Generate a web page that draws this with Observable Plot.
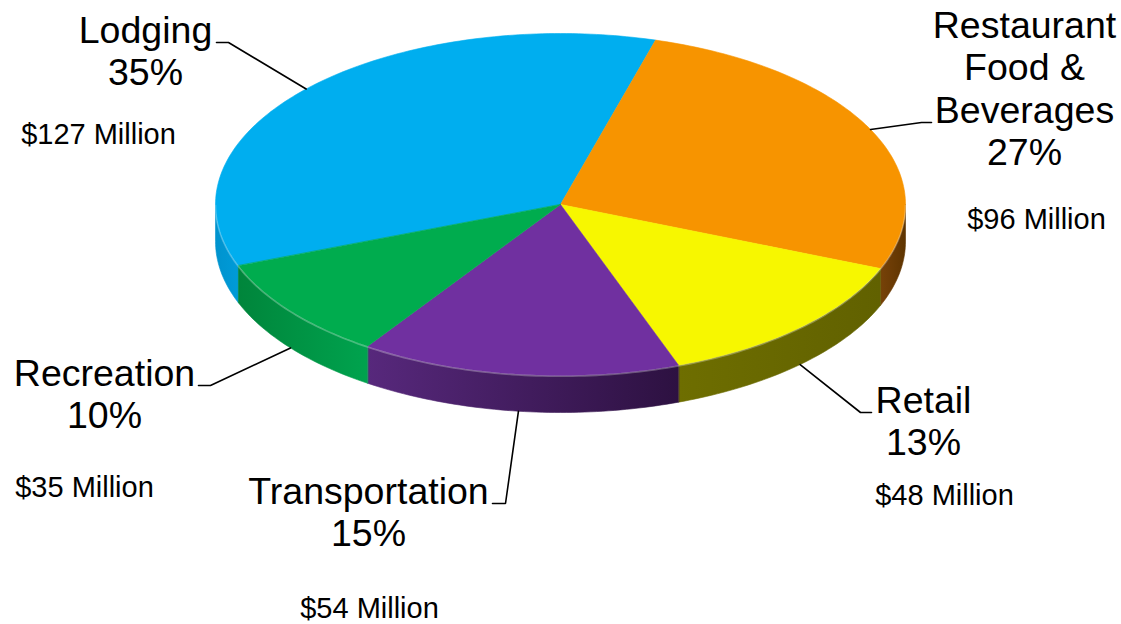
<!DOCTYPE html>
<html>
<head>
<meta charset="utf-8">
<script src="https://cdn.jsdelivr.net/npm/d3@7"></script>
<script src="https://cdn.jsdelivr.net/npm/@observablehq/plot@0.6"></script>
<style>
  html, body { margin: 0; padding: 0; background: #fff; }
  #chart svg { display: block; }
</style>
</head>
<body>
<div id="chart"></div>
<script>
// ---------------- DATA ----------------
const categories = ["Lodging", "Restaurant Food & Beverages", "Retail", "Transportation", "Recreation"];
const labelLines = [["Lodging"], ["Restaurant", "Food &", "Beverages"], ["Retail"], ["Transportation"], ["Recreation"]];
const millions = [127, 96, 48, 54, 35];

// ---------------- STYLE ----------------
const topColors = ["#00AEEF", "#F79400", "#F7F700", "#7030A0", "#00AC4E"];
const sideColors = [
  ["#0093CE", "#009BD8"],
  ["#774209", "#5E3400"],
  ["#6E6E00", "#616100"],
  ["#57287C", "#2D1141"],
  ["#00853B", "#00A34E"]
];

// ---------------- LAYOUT ----------------
const W = 1121, H = 624;
const pie = {cx: 560, cy: 204, rx: 345, ry: 171, depth: 37, start: -111};
const bigFont = 37.5, smallFont = 29, lineStep = 42.5;
// per slice: label centre x, first baseline y, money centre x / baseline y, leader end and elbow
const labelLayout = [
  {x: 145,  y: 42,  mx: 98,   my: 143, end: [216, 42],  elbow: [228, 42]},
  {x: 1024, y: 37,  mx: 1036, my: 228, end: [931, 122], elbow: [921, 122]},
  {x: 923,  y: 412, mx: 944,  my: 504, end: [871, 412], elbow: [860, 412]},
  {x: 368,  y: 503, mx: 369,  my: 617, end: [492, 503], elbow: [505, 503]},
  {x: 104,  y: 385, mx: 84,   my: 496, end: [198, 385], elbow: [210, 385]}
];

// ---------------- GEOMETRY (from values) ----------------
function pt(a, dy = 0) {
  const r = a * Math.PI / 180;
  return {x: pie.cx + pie.rx * Math.sin(r), y: pie.cy - pie.ry * Math.cos(r) + dy};
}
function arcPts(a0, a1, dy) {
  const n = Math.max(2, Math.ceil(Math.abs(a1 - a0)));
  return d3.range(n + 1).map(k => pt(a0 + (a1 - a0) * k / n, dy));
}
const total = d3.sum(millions);
let acc = pie.start;
const slices = millions.map((v, i) => {
  const a0 = acc, a1 = acc + 360 * v / total;
  acc = a1;
  return {i, a0, a1, mid: (a0 + a1) / 2};
});

const topRows = [], sideRows = [], leaderRows = [], bigText = [], smallText = [];
slices.forEach(s => {
  [{x: pie.cx, y: pie.cy}, ...arcPts(s.a0, s.a1, 0)]
    .forEach(p => topRows.push({...p, id: "t" + s.i, fill: topColors[s.i]}));
  for (const [f0, f1] of [[90, 270], [-270, -90]]) {
    const b0 = Math.max(s.a0, f0), b1 = Math.min(s.a1, f1);
    if (b1 > b0) {
      [...arcPts(b0, b1, 0), ...arcPts(b0, b1, pie.depth).reverse()]
        .forEach(p => sideRows.push({...p, id: "s" + s.i + "_" + f0, fill: `url(#side${s.i})`}));
    }
  }
  // leader line: label end -> elbow -> rim at mid angle (bottom rim if in front)
  const m = ((s.mid % 360) + 360) % 360;
  const rim = pt(s.mid, (m > 90 && m < 270) ? pie.depth : 0);
  const L = labelLayout[s.i];
  [{x: L.end[0], y: L.end[1]}, {x: L.elbow[0], y: L.elbow[1]}, rim]
    .forEach(p => leaderRows.push({...p, id: "l" + s.i}));
  // texts
  const pct = Math.round(100 * millions[s.i] / total) + "%";
  [...labelLines[s.i], pct].forEach((t, k) => bigText.push({x: L.x, y: L.y + k * lineStep, text: t}));
  smallText.push({x: L.mx, y: L.my, text: `$${millions[s.i]} Million`});
});

const shadowRows = [...arcPts(-90, 90, 0), ...arcPts(90, 270, pie.depth)].map(p => ({...p}));
const rimRows = arcPts(90, 270, 0.8);

// ---------------- PLOT ----------------
const chart = Plot.plot({
  width: W, height: H, margin: 0,
  x: {domain: [0, W], range: [0, W], axis: null},
  y: {domain: [0, H], range: [0, H], axis: null},
  color: {type: "identity"},
  style: {fontFamily: "'Liberation Sans', Arial, Helvetica, sans-serif", background: "#fff", color: "#000"},
  marks: [
    Plot.line(shadowRows, {x: "x", y: "y", fill: "#000", fillOpacity: 0.45, stroke: "none",
      curve: "linear-closed", dx: 1, dy: 3, ariaLabel: "shadow"}),
    Plot.line(sideRows, {x: "x", y: "y", z: "id", fill: "fill", stroke: "fill", strokeWidth: 0.6,
      curve: "linear-closed"}),
    Plot.line(topRows, {x: "x", y: "y", z: "id", fill: "fill", stroke: "fill", strokeWidth: 0.6,
      curve: "linear-closed"}),
    Plot.line(rimRows, {x: "x", y: "y", stroke: "#fff", strokeOpacity: 0.28, strokeWidth: 1.6, fill: "none"}),
    Plot.line(leaderRows, {x: "x", y: "y", z: "id", stroke: "#000", strokeWidth: 1.6, fill: "none",
      strokeLinejoin: "miter"}),
    Plot.text(bigText, {x: "x", y: "y", text: "text", fontSize: bigFont, textAnchor: "middle",
      lineAnchor: "bottom", fill: "#000"}),
    Plot.text(smallText, {x: "x", y: "y", text: "text", fontSize: smallFont, textAnchor: "middle",
      lineAnchor: "bottom", fill: "#000"})
  ]
});

// defs: side gradients and shadow blur
const ns = "http://www.w3.org/2000/svg";
const defs = document.createElementNS(ns, "defs");
let defHtml = `<filter id="pieShadow" x="-10%" y="-10%" width="120%" height="130%"><feGaussianBlur stdDeviation="4"/></filter>`;
sideColors.forEach((c, i) => {
  defHtml += `<linearGradient id="side${i}" x1="0" y1="0" x2="1" y2="0">` +
    `<stop offset="0" stop-color="${c[0]}"/><stop offset="1" stop-color="${c[1]}"/></linearGradient>`;
});
defs.innerHTML = defHtml;
chart.insertBefore(defs, chart.firstChild);
const sh = chart.querySelector('g[aria-label="shadow"]');
if (sh) sh.setAttribute("filter", "url(#pieShadow)");

document.getElementById("chart").appendChild(chart);
</script>
</body>
</html>
